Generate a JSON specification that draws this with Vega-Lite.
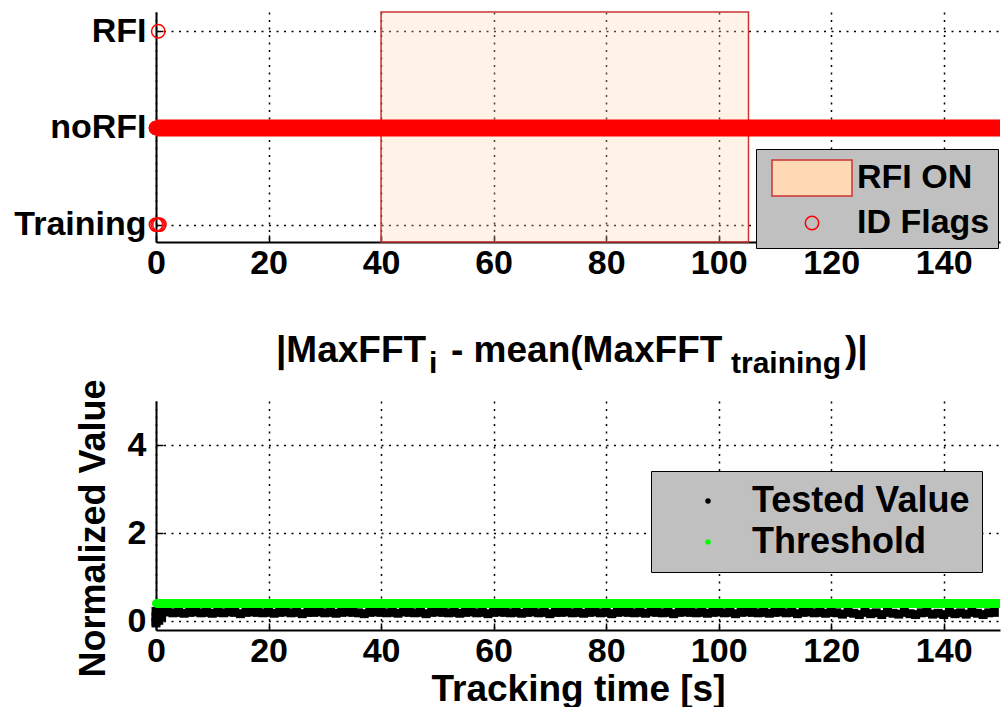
{
  "$schema": "https://vega.github.io/schema/vega-lite/v6.json",
  "background": "white",
  "padding": {"left": 13, "top": 11, "right": 0, "bottom": 0},
  "spacing": 159,
  "bounds": "flush",
  "resolve": {
    "scale": {"fill": "independent", "stroke": "independent", "shape": "independent", "size": "independent"},
    "legend": {"fill": "independent", "stroke": "independent", "shape": "independent", "size": "independent"}
  },
  "config": {
    "view": {"stroke": null},
    "font": "Liberation Sans",
    "axis": {
      "labelFont": "Liberation Sans", "labelFontWeight": "bold", "labelFontSize": 34, "labelColor": "black",
      "titleFont": "Liberation Sans", "titleFontWeight": "bold", "titleFontSize": 37, "titleColor": "black",
      "domainColor": "black", "domainWidth": 2,
      "tickColor": "black", "tickSize": -7, "tickWidth": 1.5,
      "grid": true, "gridColor": "black", "gridDash": [2, 5.5], "gridWidth": 1.5, "gridOpacity": 1,
      "labelFlush": false, "labelOverlap": false
    },
    "axisX": {"labelPadding": 11},
    "axisY": {"labelPadding": 17},
    "legend": {
      "labelFont": "Liberation Sans", "labelFontWeight": "bold", "labelFontSize": 35, "labelColor": "black",
      "labelLimit": 400,
      "fillColor": "#c0c0c0", "strokeColor": "black"
    }
  },
  "datasets": {
    "rfi": [{"t": 40, "t2": 105.3}],
    "norfi": [{"t": 0, "f": 1}, {"t": 150, "f": 1}],
    "flags": [{"t": 0.4, "f": 2}, {"t": 0, "f": 0}, {"t": 0.3, "f": 0}, {"t": 0.6, "f": 0}],
    "threshold": [{"t": 0, "v": 0.4}, {"t": 150, "v": 0.4}],
    "titleParts": [
      {"part": "main1", "label": "|MaxFFT"},
      {"part": "sub1", "label": "i"},
      {"part": "main2", "label": "- mean(MaxFFT"},
      {"part": "sub2", "label": "training"},
      {"part": "main3", "label": ")|"}
    ],
    "tested": [
      {"t": 0, "v": 0.22}, {"t": 0, "v": 0.1}, {"t": 0, "v": 0.0}, {"t": 0, "v": -0.04},
      {"t": 0.5, "v": 0.15}, {"t": 0.5, "v": 0.02}, {"t": 1, "v": 0.1}, {"t": 1, "v": 0.2},
      {"t": 2, "v": 0.21}, {"t": 3, "v": 0.19}, {"t": 4, "v": 0.2}, {"t": 5, "v": 0.18},
      {"t": 6, "v": 0.2}, {"t": 7, "v": 0.21}, {"t": 8, "v": 0.19}, {"t": 9, "v": 0.2}, {"t": 10, "v": 0.18},
      {"t": 11, "v": 0.2}, {"t": 12, "v": 0.19}, {"t": 13, "v": 0.21}, {"t": 14, "v": 0.2}, {"t": 15, "v": 0.17},
      {"t": 16, "v": 0.2}, {"t": 17, "v": 0.21}, {"t": 18, "v": 0.2}, {"t": 19, "v": 0.19}, {"t": 20, "v": 0.2},
      {"t": 21, "v": 0.18}, {"t": 22, "v": 0.2}, {"t": 23, "v": 0.21}, {"t": 24, "v": 0.19}, {"t": 25, "v": 0.2},
      {"t": 26, "v": 0.17}, {"t": 27, "v": 0.2}, {"t": 28, "v": 0.2}, {"t": 29, "v": 0.21}, {"t": 30, "v": 0.19},
      {"t": 31, "v": 0.2}, {"t": 32, "v": 0.18}, {"t": 33, "v": 0.2}, {"t": 34, "v": 0.21}, {"t": 35, "v": 0.2},
      {"t": 36, "v": 0.19}, {"t": 37, "v": 0.17}, {"t": 38, "v": 0.2}, {"t": 39, "v": 0.21}, {"t": 40, "v": 0.2},
      {"t": 41, "v": 0.19}, {"t": 42, "v": 0.2}, {"t": 43, "v": 0.18}, {"t": 44, "v": 0.21}, {"t": 45, "v": 0.2},
      {"t": 46, "v": 0.19}, {"t": 47, "v": 0.2}, {"t": 48, "v": 0.17}, {"t": 49, "v": 0.2}, {"t": 50, "v": 0.21},
      {"t": 51, "v": 0.2}, {"t": 52, "v": 0.19}, {"t": 53, "v": 0.2}, {"t": 54, "v": 0.18}, {"t": 55, "v": 0.2},
      {"t": 56, "v": 0.21}, {"t": 57, "v": 0.19}, {"t": 58, "v": 0.2}, {"t": 59, "v": 0.17}, {"t": 60, "v": 0.2},
      {"t": 61, "v": 0.21}, {"t": 62, "v": 0.2}, {"t": 63, "v": 0.19}, {"t": 64, "v": 0.2}, {"t": 65, "v": 0.18},
      {"t": 66, "v": 0.2}, {"t": 67, "v": 0.21}, {"t": 68, "v": 0.19}, {"t": 69, "v": 0.2}, {"t": 70, "v": 0.17},
      {"t": 71, "v": 0.2}, {"t": 72, "v": 0.2}, {"t": 73, "v": 0.21}, {"t": 74, "v": 0.19}, {"t": 75, "v": 0.2},
      {"t": 76, "v": 0.18}, {"t": 77, "v": 0.2}, {"t": 78, "v": 0.21}, {"t": 79, "v": 0.19}, {"t": 80, "v": 0.2},
      {"t": 81, "v": 0.17}, {"t": 82, "v": 0.2}, {"t": 83, "v": 0.21}, {"t": 84, "v": 0.2}, {"t": 85, "v": 0.19},
      {"t": 86, "v": 0.2}, {"t": 87, "v": 0.18}, {"t": 88, "v": 0.21}, {"t": 89, "v": 0.2}, {"t": 90, "v": 0.19},
      {"t": 91, "v": 0.2}, {"t": 92, "v": 0.17}, {"t": 93, "v": 0.2}, {"t": 94, "v": 0.21}, {"t": 95, "v": 0.2},
      {"t": 96, "v": 0.19}, {"t": 97, "v": 0.2}, {"t": 98, "v": 0.18}, {"t": 99, "v": 0.2}, {"t": 100, "v": 0.21},
      {"t": 101, "v": 0.19}, {"t": 102, "v": 0.2}, {"t": 103, "v": 0.17}, {"t": 104, "v": 0.2}, {"t": 105, "v": 0.21},
      {"t": 106, "v": 0.2}, {"t": 107, "v": 0.19}, {"t": 108, "v": 0.2}, {"t": 109, "v": 0.18}, {"t": 110, "v": 0.2},
      {"t": 111, "v": 0.21}, {"t": 112, "v": 0.19}, {"t": 113, "v": 0.2}, {"t": 114, "v": 0.17}, {"t": 115, "v": 0.2},
      {"t": 116, "v": 0.21}, {"t": 117, "v": 0.19}, {"t": 118, "v": 0.2}, {"t": 119, "v": 0.18}, {"t": 120, "v": 0.2},
      {"t": 121, "v": 0.19}, {"t": 122, "v": 0.16}, {"t": 123, "v": 0.2}, {"t": 124, "v": 0.18}, {"t": 125, "v": 0.15},
      {"t": 126, "v": 0.2}, {"t": 127, "v": 0.17}, {"t": 128, "v": 0.19}, {"t": 129, "v": 0.15}, {"t": 130, "v": 0.2},
      {"t": 131, "v": 0.18}, {"t": 132, "v": 0.16}, {"t": 133, "v": 0.2}, {"t": 134, "v": 0.17}, {"t": 135, "v": 0.15},
      {"t": 136, "v": 0.19}, {"t": 137, "v": 0.2}, {"t": 138, "v": 0.16}, {"t": 139, "v": 0.18}, {"t": 140, "v": 0.15},
      {"t": 141, "v": 0.2}, {"t": 142, "v": 0.17}, {"t": 143, "v": 0.19}, {"t": 144, "v": 0.16}, {"t": 145, "v": 0.2},
      {"t": 146, "v": 0.18}, {"t": 147, "v": 0.15}, {"t": 148, "v": 0.19}, {"t": 149, "v": 0.2}
    ]
  },
  "vconcat": [
    {
      "width": 844,
      "height": 230,
      "layer": [
        {
          "data": {"name": "rfi"},
          "mark": {"type": "rect", "fillOpacity": 0.3, "strokeWidth": 1.5},
          "encoding": {
            "x": {"field": "t", "type": "quantitative", "scale": {"domain": [0, 150], "nice": false},
                  "axis": {"values": [0, 20, 40, 60, 80, 100, 120, 140], "title": null}},
            "x2": {"field": "t2"},
            "fill": {"datum": "RFI ON", "type": "nominal",
                     "scale": {"domain": ["RFI ON", "ID Flags"], "range": ["#ffd8b4", "transparent"]},
                     "legend": {"title": null, "orient": "none", "legendX": 600, "legendY": 137, "padding": 8,
                                "symbolOffset": 27, "labelOffset": 24, "rowPadding": 7, "labelFontSize": 34,
                                "symbolStrokeWidth": 1.5,
                                "encode": {"legend": {"update": {"strokeWidth": {"value": 2}}},
                                           "symbols": {"update": {"fillOpacity": {"value": 1}}}}}},
            "stroke": {"datum": "RFI ON", "type": "nominal",
                       "scale": {"domain": ["RFI ON", "ID Flags"], "range": ["#cc3333", "#ff0000"]},
                       "legend": {"title": null, "orient": "none", "legendX": 600, "legendY": 137, "padding": 8,
                                  "symbolOffset": 27, "labelOffset": 24, "rowPadding": 7, "labelFontSize": 34,
                                  "symbolStrokeWidth": 1.5,
                                  "encode": {"legend": {"update": {"strokeWidth": {"value": 2}}},
                                             "symbols": {"update": {"fillOpacity": {"value": 1}}}}}}
          }
        },
        {
          "mark": {"type": "rule", "strokeDash": [2, 5.5], "strokeWidth": 1.5, "color": "black"},
          "encoding": {"y": {"datum": 2.2, "type": "quantitative", "scale": {"domain": [-0.18, 2.2], "nice": false}}}
        },
        {
          "data": {"name": "norfi"},
          "mark": {"type": "line", "strokeWidth": 17, "strokeCap": "butt", "color": "#ff0000"},
          "encoding": {
            "x": {"field": "t", "type": "quantitative", "scale": {"domain": [0, 150], "nice": false}},
            "y": {"field": "f", "type": "quantitative", "scale": {"domain": [-0.18, 2.2], "nice": false},
                  "axis": {"values": [0, 1, 2], "title": null,
                           "labelExpr": "datum.value == 2 ? 'RFI' : datum.value == 1 ? 'noRFI' : 'Training'"}}
          }
        },
        {
          "data": {"name": "norfi"},
          "transform": [{"filter": "datum.t == 0"}],
          "mark": {"type": "circle", "size": 227, "color": "#ff0000", "opacity": 1},
          "encoding": {
            "x": {"field": "t", "type": "quantitative", "scale": {"domain": [0, 150], "nice": false}},
            "y": {"field": "f", "type": "quantitative", "scale": {"domain": [-0.18, 2.2], "nice": false}}
          }
        },
        {
          "data": {"name": "flags"},
          "mark": {"type": "point", "filled": false, "strokeWidth": 1.5, "opacity": 1},
          "encoding": {
            "x": {"field": "t", "type": "quantitative", "scale": {"domain": [0, 150], "nice": false}},
            "y": {"field": "f", "type": "quantitative", "scale": {"domain": [-0.18, 2.2], "nice": false}},
            "fill": {"datum": "ID Flags", "type": "nominal",
                     "scale": {"domain": ["RFI ON", "ID Flags"], "range": ["#ffd8b4", "transparent"]},
                     "legend": {"title": null, "orient": "none", "legendX": 600, "legendY": 137, "padding": 8,
                                "symbolOffset": 27, "labelOffset": 24, "rowPadding": 7, "labelFontSize": 34,
                                "symbolStrokeWidth": 1.5,
                                "encode": {"legend": {"update": {"strokeWidth": {"value": 2}}},
                                           "symbols": {"update": {"fillOpacity": {"value": 1}}}}}},
            "stroke": {"datum": "ID Flags", "type": "nominal",
                       "scale": {"domain": ["RFI ON", "ID Flags"], "range": ["#cc3333", "#ff0000"]},
                       "legend": {"title": null, "orient": "none", "legendX": 600, "legendY": 137, "padding": 8,
                                  "symbolOffset": 27, "labelOffset": 24, "rowPadding": 7, "labelFontSize": 34,
                                  "symbolStrokeWidth": 1.5,
                                  "encode": {"legend": {"update": {"strokeWidth": {"value": 2}}},
                                             "symbols": {"update": {"fillOpacity": {"value": 1}}}}}},
            "shape": {"datum": "ID Flags", "type": "nominal",
                      "scale": {"domain": ["RFI ON", "ID Flags"], "range": ["M-2,-0.9H2V0.9H-2Z", "circle"]},
                      "legend": {"title": null, "orient": "none", "legendX": 600, "legendY": 137, "padding": 8,
                                 "symbolOffset": 27, "labelOffset": 24, "rowPadding": 7, "labelFontSize": 34,
                                 "symbolStrokeWidth": 1.5,
                                 "encode": {"legend": {"update": {"strokeWidth": {"value": 2}}},
                                            "symbols": {"update": {"fillOpacity": {"value": 1}}}}}},
            "size": {"datum": "ID Flags", "type": "nominal",
                     "scale": {"type": "ordinal", "domain": ["RFI ON", "ID Flags"], "range": [1600, 180]},
                     "legend": {"title": null, "orient": "none", "legendX": 600, "legendY": 137, "padding": 8,
                                "symbolOffset": 27, "labelOffset": 24, "rowPadding": 7, "labelFontSize": 34,
                                "symbolStrokeWidth": 1.5,
                                "encode": {"legend": {"update": {"strokeWidth": {"value": 2}}},
                                           "symbols": {"update": {"fillOpacity": {"value": 1}}}}}}
          }
        }
      ]
    },
    {
      "width": 844,
      "height": 229,
      "layer": [
        {
          "mark": {"type": "rule", "strokeDash": [2, 5.5], "strokeWidth": 1.5, "color": "black"},
          "encoding": {"y": {"datum": 5, "type": "quantitative", "scale": {"domain": [-0.2, 5], "nice": false}}}
        },
        {
          "data": {"name": "tested"},
          "mark": {"type": "point", "shape": "square", "filled": true, "size": 80, "opacity": 1, "strokeWidth": 0},
          "encoding": {
            "x": {"field": "t", "type": "quantitative", "scale": {"domain": [0, 150], "nice": false},
                  "axis": {"values": [0, 20, 40, 60, 80, 100, 120, 140], "title": "Tracking time [s]", "titlePadding": 3}},
            "y": {"field": "v", "type": "quantitative", "scale": {"domain": [-0.2, 5], "nice": false},
                  "axis": {"values": [0, 2, 4], "title": "Normalized Value", "titlePadding": 15, "titleFontSize": 36, "titleY": 127}},
            "fill": {"datum": "Tested Value", "type": "nominal",
                     "scale": {"domain": ["Tested Value", "Threshold"], "range": ["black", "#00ff00"]},
                     "legend": {"title": null, "orient": "none", "legendX": 495, "legendY": 70, "padding": 12,
                                "symbolOffset": 27, "labelOffset": 26, "rowPadding": 5, "labelFontSize": 36,
                                "symbolType": "circle", "symbolSize": 30,
                                "encode": {"legend": {"update": {"strokeWidth": {"value": 2}}},
                                           "symbols": {"update": {"size": {"value": 30}, "shape": {"value": "circle"}}}}}}
          }
        },
        {
          "data": {"name": "threshold"},
          "mark": {"type": "line", "strokeWidth": 9, "strokeCap": "butt", "color": "#00ff00"},
          "encoding": {
            "x": {"field": "t", "type": "quantitative", "scale": {"domain": [0, 150], "nice": false}},
            "y": {"field": "v", "type": "quantitative", "scale": {"domain": [-0.2, 5], "nice": false}}
          }
        },
        {
          "data": {"name": "threshold"},
          "transform": [{"filter": "datum.t == 0"}],
          "mark": {"type": "circle", "size": 64, "color": "#00ff00", "opacity": 1},
          "encoding": {
            "x": {"field": "t", "type": "quantitative", "scale": {"domain": [0, 150], "nice": false}},
            "y": {"field": "v", "type": "quantitative", "scale": {"domain": [-0.2, 5], "nice": false}}
          }
        },
        {
          "data": {"name": "titleParts"},
          "transform": [{"filter": "datum.part == 'main1'"}],
          "mark": {"type": "text", "align": "left", "baseline": "alphabetic", "dy": -39,
                   "font": "Liberation Sans", "fontWeight": "bold", "fontSize": 37, "color": "black"},
          "encoding": {"text": {"field": "label"}, "x": {"datum": 21.33, "type": "quantitative"}, "y": {"datum": 5, "type": "quantitative"}}
        },
        {
          "data": {"name": "titleParts"},
          "transform": [{"filter": "datum.part == 'sub1'"}],
          "mark": {"type": "text", "align": "left", "baseline": "alphabetic", "dy": -28,
                   "font": "Liberation Sans", "fontWeight": "bold", "fontSize": 30, "color": "black"},
          "encoding": {"text": {"field": "label"}, "x": {"datum": 48.52, "type": "quantitative"}, "y": {"datum": 5, "type": "quantitative"}}
        },
        {
          "data": {"name": "titleParts"},
          "transform": [{"filter": "datum.part == 'main2'"}],
          "mark": {"type": "text", "align": "left", "baseline": "alphabetic", "dy": -39,
                   "font": "Liberation Sans", "fontWeight": "bold", "fontSize": 37, "color": "black"},
          "encoding": {"text": {"field": "label"}, "x": {"datum": 52.43, "type": "quantitative"}, "y": {"datum": 5, "type": "quantitative"}}
        },
        {
          "data": {"name": "titleParts"},
          "transform": [{"filter": "datum.part == 'sub2'"}],
          "mark": {"type": "text", "align": "left", "baseline": "alphabetic", "dy": -28,
                   "font": "Liberation Sans", "fontWeight": "bold", "fontSize": 30, "color": "black"},
          "encoding": {"text": {"field": "label"}, "x": {"datum": 102.19, "type": "quantitative"}, "y": {"datum": 5, "type": "quantitative"}}
        },
        {
          "data": {"name": "titleParts"},
          "transform": [{"filter": "datum.part == 'main3'"}],
          "mark": {"type": "text", "align": "left", "baseline": "alphabetic", "dy": -39,
                   "font": "Liberation Sans", "fontWeight": "bold", "fontSize": 37, "color": "black"},
          "encoding": {"text": {"field": "label"}, "x": {"datum": 122.45, "type": "quantitative"}, "y": {"datum": 5, "type": "quantitative"}}
        }
      ]
    }
  ]
}
